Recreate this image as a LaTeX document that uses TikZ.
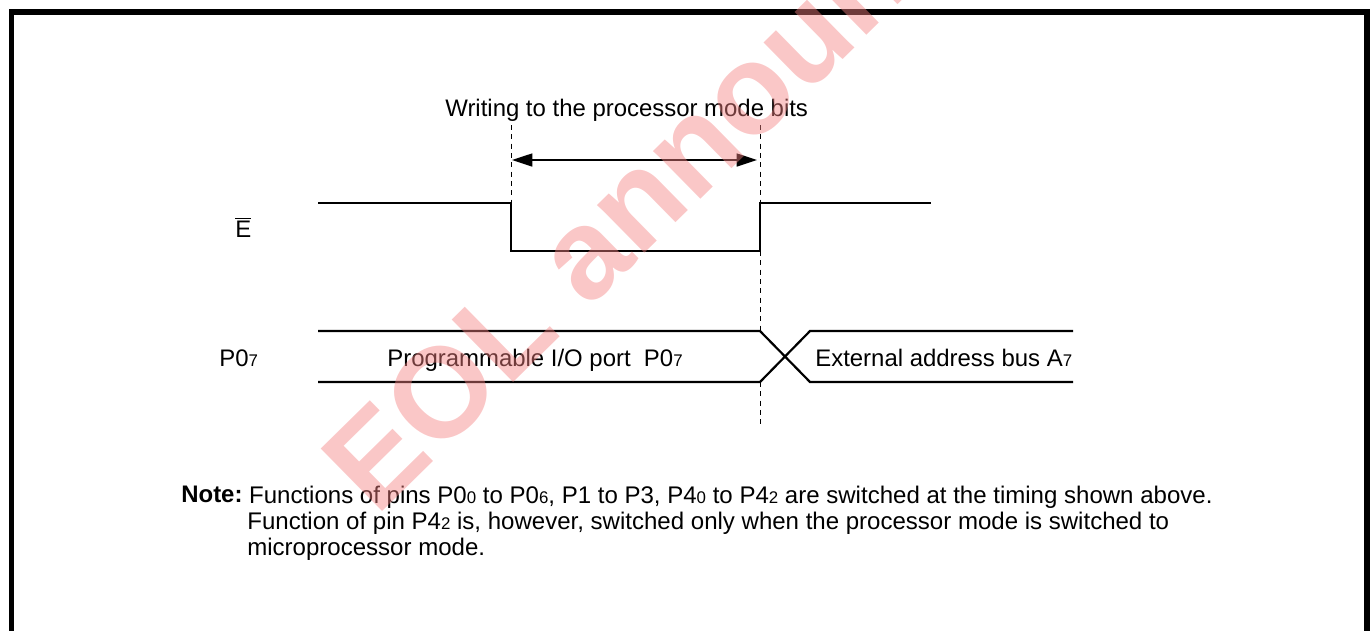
\documentclass[tikz,border=0pt]{standalone}
\usepackage{fontspec}
\setmainfont{Liberation Sans}
\usetikzlibrary{positioning}
\usetikzlibrary{arrows.meta}

\definecolor{stampred}{HTML}{F48282}
\newcommand{\lowfig}[1]{{\fontsize{9.6}{12}\selectfont #1}}

\tikzset{
  label text/.style={inner sep=0pt, font=\fontsize{13.62}{15}\selectfont},
  note text/.style={inner sep=0pt, font=\fontsize{13.68}{15}\selectfont},
  signal/.style={line width=1.25pt},
  guide/.style={line width=0.35pt, dash pattern=on 2.9pt off 2.4pt},
  span/.style={line width=0.85pt, {Triangle[length=11.6pt,width=7.4pt]}-{Triangle[length=11.6pt,width=7.4pt]}},
  frame/.style={line width=3.1pt}
}

\begin{document}
\begin{tikzpicture}[x=0.02cm, y=-0.02cm]

    \useasboundingbox (0,0) rectangle (1370,630);
    \clip (0,0) rectangle (1370,630);

    % Frame
    \coordinate (frameTL) at (11.5,12);
    \coordinate (frameBR) at (1367,660);
    \draw[frame] (frameTL) rectangle (frameBR);

    % Labels
    \node[label text, anchor=base west] (writing) at (445,116) {Writing to the processor mode bits};
    \node[label text, anchor=base west] (enable) at (235,237) {$\overline{\mbox{E}}$};
    \node[label text, anchor=base west] (portpin) at (219,366) {P0\lowfig{7}};
    \node[label text, anchor=base west] (portdata) at (387,366) {Programmable I/O port\ \ P0\lowfig{7}};
    \node[label text, anchor=base west] (busdata) at (815,366) {External address bus A\lowfig{7}};

    % Guides
    \coordinate (fallTop) at (511,125);
    \coordinate (fallHigh) at (511,203);
    \coordinate (fallLow) at (511,251);
    \coordinate (riseTop) at (760,125);
    \coordinate (riseHigh) at (760,203);
    \coordinate (riseLow) at (760,251);
    \coordinate (busTop) at (760,331);
    \coordinate (busLow) at (760,382);
    \coordinate (riseEnd) at (760,425);
    \draw[guide] (fallTop) -- (fallHigh);
    \draw[guide] (riseTop) -- (riseHigh);
    \draw[guide] (riseLow) -- (busTop);
    \draw[guide] (busLow) -- (riseEnd);

    % Span
    \coordinate (spanL) at (512,160);
    \coordinate (spanR) at (757,160);
    \draw[span] (spanL) -- (spanR);

    % Signals
    \coordinate (enableStart) at (318,203);
    \coordinate (enableEnd) at (931,203);
    \draw[signal] (enableStart) -- (fallHigh) -- (fallLow) -- (riseLow) -- (riseHigh) -- (enableEnd);
    \coordinate (portTopStart) at (318,331);
    \coordinate (portLowStart) at (318,382);
    \coordinate (crossTop) at (810,331);
    \coordinate (crossLow) at (810,382);
    \coordinate (busTopEnd) at (1073,331);
    \coordinate (busLowEnd) at (1073,382);
    \draw[signal] (portTopStart) -- (busTop) -- (crossLow) -- (busLowEnd);
    \draw[signal] (portLowStart) -- (busLow) -- (crossTop) -- (busTopEnd);

    % Note
    \node[note text, anchor=base west, font=\fontsize{13.62}{15}\bfseries\selectfont] (noteHead) at (181,502) {Note:};
    \node[note text, anchor=north west, align=left] (noteBody) at (247,485.5) {\hspace{1pt}Functions of pins P0\lowfig{0} to P0\lowfig{6}, P1 to P3, P4\lowfig{0} to P4\lowfig{2} are switched at the timing shown above.\\Function of pin P4\lowfig{2} is, however, switched only when the processor mode is switched to\\microprocessor mode.};

    % Stamp
    \node[inner sep=0pt, anchor=base west, rotate=44.5, text=stampred, text opacity=0.45, font=\fontsize{72.5}{75}\bfseries\selectfont] (stamp) at (376,518) {EOL announced};

  \end{tikzpicture}
\end{document}
